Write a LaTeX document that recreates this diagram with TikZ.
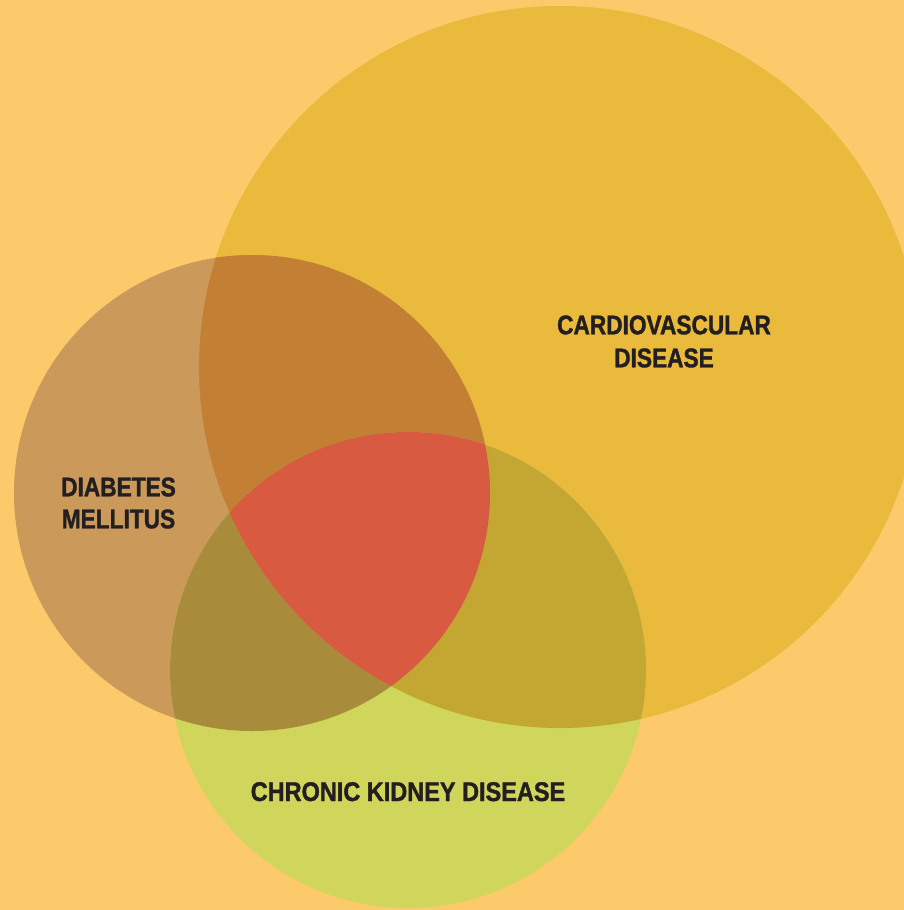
\documentclass[tikz,border=0pt]{standalone}
\usepackage{fontspec}
\setmainfont[FakeStretch=0.84, BoldFeatures={FakeBold=1.3}]{Liberation Sans}
\newfontfamily\ckdfont[FakeStretch=0.87, BoldFeatures={FakeBold=1.3}]{Liberation Sans}
\definecolor{bgcol}{HTML}{FCC96B}
\definecolor{cvdcol}{HTML}{E9BA3C}
\definecolor{dmcol}{HTML}{CB9A5A}
\definecolor{ckdcol}{HTML}{CFD65B}
\definecolor{dmcvd}{HTML}{C37F33}
\definecolor{cvdckd}{HTML}{C4A733}
\definecolor{dmckd}{HTML}{A88C3B}
\definecolor{allcol}{HTML}{D85A41}
\definecolor{txtcol}{HTML}{231F20}
\tikzset{
  lbl/.style={text=txtcol, font=\bfseries\fontsize{13.5}{16.5}\selectfont, align=center, inner sep=0pt}
}
\begin{document}
\begin{tikzpicture}[x=0.5pt,y=-0.5pt]
  \fill[bgcol] (0,0) rectangle (904,910);
  \useasboundingbox (0,0) rectangle (904,910);
  \def\cvd{(560,367) circle[radius=361]}
  \def\dm{(252,493) circle[radius=238]}
  \def\ckd{(408,670) circle[radius=238]}
  \fill[cvdcol] \cvd;
  \fill[dmcol] \dm;
  \fill[ckdcol] \ckd;
  \begin{scope}
    \clip \dm;
    \fill[dmcvd] \cvd;
  \end{scope}
  \begin{scope}
    \clip \dm;
    \fill[dmckd] \ckd;
  \end{scope}
  \begin{scope}
    \clip \cvd;
    \fill[cvdckd] \ckd;
  \end{scope}
  \begin{scope}
    \clip \cvd;
    \clip \dm;
    \fill[allcol] \ckd;
  \end{scope}
  \node[lbl] (cvdlabel) at (664,341.5) {CARDIOVASCULAR\\DISEASE};
  \node[lbl, font=\bfseries\fontsize{13.5}{16}\selectfont] (dmlabel) at (118.5,503) {DIABETES\\MELLITUS};
  \node[lbl, font=\ckdfont\bfseries\fontsize{13.5}{16.5}\selectfont] (ckdlabel) at (408,791.7) {CHRONIC KIDNEY DISEASE};
\end{tikzpicture}
\end{document}
